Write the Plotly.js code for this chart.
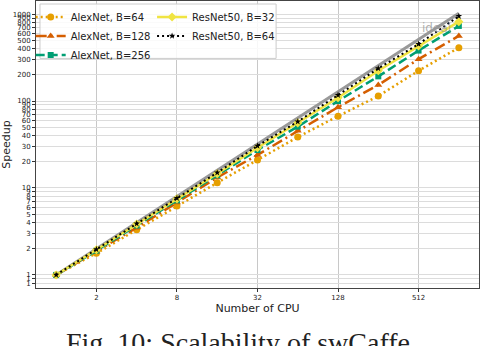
<!DOCTYPE html>
<html><head><meta charset="utf-8">
<script src="https://cdn.plot.ly/plotly-3.0.1.min.js"></script>
<style>html,body{margin:0;padding:0;background:#fff;}#chart{width:480px;height:346px;}</style>
</head><body><div id="chart"></div>
<script>
const cpus = [1, 2, 4, 8, 16, 32, 64, 128, 256, 512, 1024];
const idealSpeedup = [1, 2, 4, 8, 16, 32, 64, 128, 256, 512, 1024];
const alexnetB64 = [1, 1.78, 3.3, 6.2, 11.5, 21, 38.5, 67, 114, 223, 410];
const alexnetB128 = [1, 1.85, 3.5, 6.8, 13.2, 24, 45.6, 85, 153, 303, 560];
const alexnetB256 = [1, 1.9, 3.7, 7.2, 14.0, 27.3, 50.7, 100, 192, 380, 730];
const resnetB32 = [1, 1.95, 3.85, 7.5, 14.6, 29, 56, 109, 223, 429, 818];
const resnetB64 = [1, 1.97, 3.9, 7.65, 15, 30.5, 58, 117, 237, 452, 945];
const xTickVals = [2, 8, 32, 128, 512];
const xTickText = ["2", "8", "32", "128", "512"];
const yTickVals = [0.8, 0.9, 1, 2, 3, 4, 5, 6, 7, 8, 9, 10, 20, 30, 40, 50, 60, 70, 80, 90, 100, 200, 300, 400, 500, 600, 700, 800, 900, 1000];
const yTickText = ["1", "1", "1", "2", "3", "4", "5", "6", "7", "8", "9", "10", "20", "30", "40", "50", "60", "70", "80", "90", "100", "200", "300", "400", "500", "600", "700", "800", "900", "1000"];
const seriesNames = ["AlexNet, B=64", "AlexNet, B=128", "AlexNet, B=256", "ResNet50, B=32", "ResNet50, B=64"];

const traces = [
  {x: cpus, y: idealSpeedup, mode: 'lines', line: {color: '#999999', width: 3}, showlegend: false, hoverinfo: 'skip'},
  {x: cpus, y: alexnetB64, name: seriesNames[0], legend: 'legend', mode: 'lines+markers',
   line: {color: '#E69F00', width: 2.5, dash: '2px,3px'}, marker: {symbol: 'circle', size: 7, color: '#E69F00'}},
  {x: cpus, y: alexnetB128, name: seriesNames[1], legend: 'legend', mode: 'lines+markers',
   line: {color: '#D55E00', width: 2.5, dash: '11px,4px,2px,4px'}, marker: {symbol: 'triangle-up', size: 7, color: '#D55E00'}},
  {x: cpus, y: alexnetB256, name: seriesNames[2], legend: 'legend', mode: 'lines+markers',
   line: {color: '#009E73', width: 2.5, dash: '9px,4px'}, marker: {symbol: 'square', size: 6, color: '#009E73'}},
  {x: cpus, y: resnetB32, name: seriesNames[3], legend: 'legend2', mode: 'lines+markers',
   line: {color: '#F0E442', width: 2.5}, marker: {symbol: 'diamond', size: 7, color: '#F0E442'}},
  {x: cpus, y: resnetB64, name: seriesNames[4], legend: 'legend2', mode: 'lines+markers',
   line: {color: '#000000', width: 2, dash: '2px,3px'}, marker: {symbol: 'star', size: 5, color: '#000000'}}
];

const tickFont = {family: 'DejaVu Sans', size: 7, color: '#222'};
const layout = {
  width: 480, height: 346,
  margin: {l: 36, r: 1, t: 1, b: 58},
  paper_bgcolor: '#fff', plot_bgcolor: '#fff',
  showlegend: true,
  xaxis: {type: 'log', range: [-0.1505, 3.161], tickvals: xTickVals, ticktext: xTickText,
    showgrid: true, gridcolor: '#c8c8c8', gridwidth: 1, ticks: 'outside', ticklen: 3, tickcolor: '#333',
    tickfont: tickFont, showline: true, linecolor: '#444', linewidth: 1, mirror: true, zeroline: false,
    title: {text: 'Number of CPU', font: {family: 'DejaVu Sans', size: 11, color: '#222'}, standoff: 0}},
  yaxis: {type: 'log', range: [-0.15, 3.15], tickvals: yTickVals, ticktext: yTickText,
    showgrid: true, gridcolor: '#dcdcdc', gridwidth: 1, ticks: 'outside', ticklen: 3, tickcolor: '#333',
    tickfont: tickFont, showline: true, linecolor: '#444', linewidth: 1, mirror: true, zeroline: false,
    title: {text: 'Speedup', font: {family: 'DejaVu Sans', size: 11, color: '#222'}, standoff: 7}},
  legend: {x: -0.012, y: 0.995, xanchor: 'left', yanchor: 'top', bgcolor: 'rgba(0,0,0,0)', borderwidth: 0,
    font: {family: 'DejaVu Sans', size: 10, color: '#222'}, tracegroupgap: 0},
  legend2: {x: 0.262, y: 0.995, xanchor: 'left', yanchor: 'top', bgcolor: 'rgba(0,0,0,0)', borderwidth: 0,
    font: {family: 'DejaVu Sans', size: 10, color: '#222'}, tracegroupgap: 0},
  shapes: [{type: 'rect', xref: 'paper', yref: 'paper', x0: 0.009, x1: 0.542, y0: 0.80, y1: 0.9895,
    fillcolor: 'rgba(255,255,255,0.85)', line: {color: '#cccccc', width: 1}, layer: 'above'}],
  annotations: [
    {text: 'ideal', xref: 'paper', yref: 'paper', x: 0.867, y: 0.906, xanchor: 'left', yanchor: 'middle', showarrow: false,
     font: {family: 'DejaVu Sans', size: 12, color: 'rgba(150,150,150,0.75)'}},
    {text: 'Fig. 10: Scalability of swCaffe.', xref: 'paper', yref: 'paper', x: 0.463, y: -0.129,
     yanchor: 'top', xanchor: 'center', showarrow: false,
     font: {family: 'Liberation Serif', size: 28, color: '#222'}}
  ]
};
Plotly.newPlot('chart', traces, layout, {displayModeBar: false, staticPlot: true});
</script></body></html>
